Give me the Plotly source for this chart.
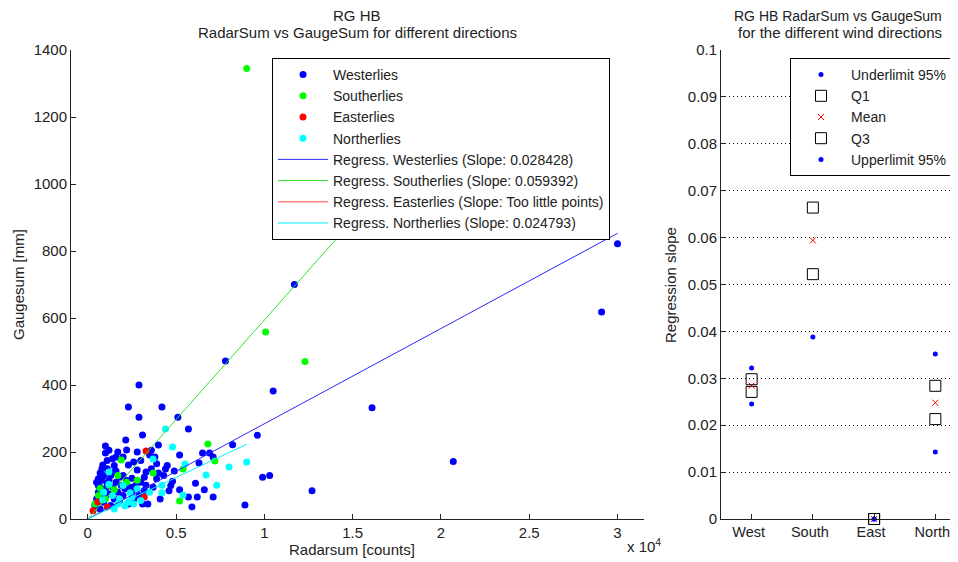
import plotly.graph_objects as go

# ---------------- data: left scatter (Radarsum [counts] vs Gaugesum [mm]) ----------------
west_x = [11700, 30000, 29100, 20700, 16100, 12700, 10500, 10300, 9900, 9600, 8900, 7800, 2900, 2300,
          4200, 2900, 5100, 5700, 3100, 2150, 8200, 1000, 4000, 2200, 6500, 6900, 3500, 5200, 1600,
          2000, 3800, 7100, 2300, 850, 6300, 4400, 4900, 1600, 2800, 3300, 4000, 700, 800, 1200, 2500,
          4800, 6100, 3300, 4600, 5200, 6600, 4100, 5700, 6200, 7100, 3100, 3400, 5900, 1000,
          500, 600, 700, 800, 900, 1000, 1100, 1200, 1300, 1400, 1500, 1600, 1700, 1800, 1900, 2000,
          2100, 2200, 2400, 2600, 2700, 1500, 1100, 900, 600, 1800, 2300, 1300, 700, 400, 1000, 1500,
          2000, 2500, 3000, 3200, 3600, 3700, 4300, 4500, 2600, 3000, 3900, 1200, 1700, 600, 800,
          1400, 2800, 3600, 3200, 2900, 4700, 3900, 500, 1100]
west_y = [700, 822, 618, 172, 332, 84, 382, 130, 125, 250, 42, 472, 400, 334,
          334, 304, 304, 269, 251, 236, 222, 218, 221, 206, 197, 197, 191, 191, 185,
          185, 185, 185, 161, 161, 167, 149, 143, 143, 146, 140, 137, 137, 116, 116, 122,
          113, 107, 101, 84, 87, 87, 60, 66, 66, 66, 45, 45, 36, 197,
          60, 80, 95, 70, 50, 90, 105, 75, 130, 95, 60, 110, 80, 125, 100, 70,
          90, 115, 95, 60, 100, 160, 150, 130, 120, 55, 45, 40, 30, 40, 65, 140,
          130, 80, 110, 125, 150, 95, 130, 160, 170, 175, 165, 205, 200, 100, 150,
          180, 200, 205, 85, 70, 100, 120, 110, 175]

south_x = [9000, 10070, 12300, 6800, 7200, 1900, 5400, 3700, 2800, 700, 1200, 1500, 5200, 600, 1000,
           2200, 400, 1700]
south_y = [1345, 558, 470, 224, 173, 176, 149, 137, 116, 92, 101, 87, 54, 70, 60,
           110, 45, 130]

east_x = [3300, 3200, 1100, 570, 300]
east_y = [203, 66, 36, 51, 25]

north_x = [4400, 4800, 3700, 8000, 9000, 5500, 6700, 4200, 7300, 1200, 2400, 4200, 5400, 2100, 850,
           1200, 2300, 2600, 1800, 2800, 3000, 1500, 2000, 3500, 900, 1400, 1700, 2500]
north_y = [269, 215, 179, 155, 170, 164, 131, 101, 101, 104, 78, 78, 72, 39, 57,
           140, 50, 45, 60, 90, 55, 30, 100, 80, 80, 70, 45, 65]

# regression slopes and x-extent of each regression line
slope_west = 0.028428
slope_south = 0.059392
slope_north = 0.024793
line_x_west = [0, 30000]
line_x_south = [0, 16000]
line_x_north = [0, 9000]

# ---------------- data: right panel (regression slope statistics) ----------------
directions = ["West", "South", "East", "North"]
under95 = [0.0245, 0.0388, 0.0, 0.0143]
q1 = [0.0271, 0.0522, 0.0, 0.0213]
mean_slope = [0.028428, 0.059392, 0.0, 0.024793]
q3 = [0.0298, 0.0664, 0.0, 0.0284]
upper95 = [0.0322, None, 0.0, 0.0352]

x_ticks = [0, 5000, 10000, 15000, 20000, 25000, 30000]
x_ticktext = ["0", "0.5", "1", "1.5", "2", "2.5", "3"]
y_ticks = [0, 200, 400, 600, 800, 1000, 1200, 1400]
y2_ticks = [0, 0.01, 0.02, 0.03, 0.04, 0.05, 0.06, 0.07, 0.08, 0.09, 0.1]
y2_ticktext = ["0", "0.01", "0.02", "0.03", "0.04", "0.05", "0.06", "0.07", "0.08", "0.09", "0.1"]

FONT = "Arial, Liberation Sans, sans-serif"
TXT = "#222222"
OFF = 8            # page body margin in the browser
W, H = 958 - OFF, 562 - OFF


def px(x):
    return (x - OFF) / W


def py(y):
    return 1 - (y - OFF) / H


fig = go.Figure()

ms = 7
fig.add_trace(go.Scatter(x=west_x, y=west_y, mode="markers", name="Westerlies", legendgroup="a",
                         marker=dict(color="#0000ff", size=ms)))
fig.add_trace(go.Scatter(x=south_x, y=south_y, mode="markers", name="Southerlies", legendgroup="b",
                         marker=dict(color="#00ff00", size=ms)))
fig.add_trace(go.Scatter(x=east_x, y=east_y, mode="markers", name="Easterlies", legendgroup="c",
                         marker=dict(color="#ff0000", size=ms)))
fig.add_trace(go.Scatter(x=north_x, y=north_y, mode="markers", name="Northerlies", legendgroup="d",
                         marker=dict(color="#00ffff", size=ms)))

fig.add_trace(go.Scatter(x=line_x_west, y=[slope_west * v for v in line_x_west], mode="lines",
                         name="Regress. Westerlies (Slope: 0.028428)", legendgroup="e",
                         line=dict(color="#2a2aff", width=1)))
fig.add_trace(go.Scatter(x=line_x_south, y=[slope_south * v for v in line_x_south], mode="lines",
                         name="Regress. Southerlies (Slope: 0.059392)", legendgroup="f",
                         line=dict(color="#2ae02a", width=1)))
fig.add_trace(go.Scatter(x=[None], y=[None], mode="lines",
                         name="Regress. Easterlies (Slope: Too little points)", legendgroup="g",
                         line=dict(color="#ff4a4a", width=1)))
fig.add_trace(go.Scatter(x=line_x_north, y=[slope_north * v for v in line_x_north], mode="lines",
                         name="Regress. Northerlies (Slope: 0.024793)", legendgroup="h",
                         line=dict(color="#00f0ff", width=1)))

# right panel
xcat = [1, 2, 3, 4]
fig.add_trace(go.Scatter(x=xcat, y=under95, mode="markers", name="Underlimit 95%", legend="legend2",
                         legendgroup="i", xaxis="x2", yaxis="y2", cliponaxis=False,
                         marker=dict(color="#0000ff", size=5)))
fig.add_trace(go.Scatter(x=xcat, y=q1, mode="markers", name="Q1", legend="legend2", legendgroup="j",
                         xaxis="x2", yaxis="y2", cliponaxis=False,
                         marker=dict(symbol="square-open", color="black", size=11, line=dict(width=1))))
fig.add_trace(go.Scatter(x=xcat, y=mean_slope, mode="markers", name="Mean", legend="legend2",
                         legendgroup="k", xaxis="x2", yaxis="y2", cliponaxis=False,
                         marker=dict(symbol="x-thin-open", color="#ff0000", size=6,
                                     line=dict(width=1, color="#ff0000"))))
fig.add_trace(go.Scatter(x=xcat, y=q3, mode="markers", name="Q3", legend="legend2", legendgroup="l",
                         xaxis="x2", yaxis="y2", cliponaxis=False,
                         marker=dict(symbol="square-open", color="black", size=11, line=dict(width=1))))
fig.add_trace(go.Scatter(x=xcat, y=upper95, mode="markers", name="Upperlimit 95%", legend="legend2",
                         legendgroup="m", xaxis="x2", yaxis="y2", cliponaxis=False,
                         marker=dict(color="#0000ff", size=5)))

left_dom = [px(71), px(644)]
right_dom = [px(721), 1.0]
y_dom = [py(519), py(50)]

axis_common = dict(showline=True, linecolor="#222", linewidth=1, ticks="inside", ticklen=5,
                   tickcolor="#222", zeroline=False, mirror=False, automargin=False)
tf15 = dict(family=FONT, size=15, color=TXT)

fig.update_layout(
    width=W, height=H,
    margin=dict(l=0, r=0, t=0, b=0, autoexpand=False),
    paper_bgcolor="white", plot_bgcolor="white",
    font=dict(family=FONT, color=TXT, size=14),
    xaxis=dict(domain=left_dom, range=[-950, 31500], tickvals=x_ticks, ticktext=x_ticktext,
               showgrid=False, anchor="y", tickfont=tf15, **axis_common),
    yaxis=dict(domain=y_dom, range=[0, 1400], tickvals=y_ticks, showgrid=False, anchor="x",
               tickfont=tf15, **axis_common),
    xaxis2=dict(domain=right_dom, range=[0.5, 4.37], tickvals=xcat, ticktext=directions,
                showgrid=False, anchor="y2", tickfont=dict(family=FONT, size=14.5, color=TXT),
                ticklabelshift=-3, **axis_common),
    yaxis2=dict(domain=y_dom, range=[0, 0.1], tickvals=y2_ticks, ticktext=y2_ticktext,
                showgrid=True, gridcolor="#000", gridwidth=1, griddash="1px,3px", anchor="x2",
                tickfont=tf15, **axis_common),
    legend=dict(x=px(272), y=py(58), xanchor="left", yanchor="top",
                bordercolor="black", borderwidth=1, bgcolor="white",
                font=dict(family=FONT, size=14, color=TXT), itemwidth=50, tracegroupgap=0),
    legend2=dict(x=px(790), y=py(58), xanchor="left", yanchor="top",
                 bordercolor="black", borderwidth=1, bgcolor="white",
                 font=dict(family=FONT, size=14, color=TXT), itemwidth=50, tracegroupgap=0),
    showlegend=True,
)

ann = [
    ("RG HB", 357, 16, 15),
    ("RadarSum vs GaugeSum for different directions", 357, 33, 15),
    ("RG HB RadarSum vs GaugeSum", 838, 16, 14),
    ("for the different wind directions", 840, 33, 15),
    ("Radarsum [counts]", 352, 549, 15),
    ("x 10<sup>4</sup>", 644, 545, 15),
]
for text, ax, ay, fs in ann:
    fig.add_annotation(xref="paper", yref="paper", x=px(ax), y=py(ay), text=text,
                       showarrow=False, xanchor="center", yanchor="middle",
                       font=dict(family=FONT, size=fs, color=TXT))
fig.add_annotation(xref="paper", yref="paper", x=px(18), y=py(285), text="Gaugesum [mm]",
                   textangle=-90, showarrow=False, xanchor="center", yanchor="middle",
                   font=dict(family=FONT, size=15, color=TXT))
fig.add_annotation(xref="paper", yref="paper", x=px(670), y=py(285), text="Regression slope",
                   textangle=-90, showarrow=False, xanchor="center", yanchor="middle",
                   font=dict(family=FONT, size=15, color=TXT))

fig.write_html("out.html")
